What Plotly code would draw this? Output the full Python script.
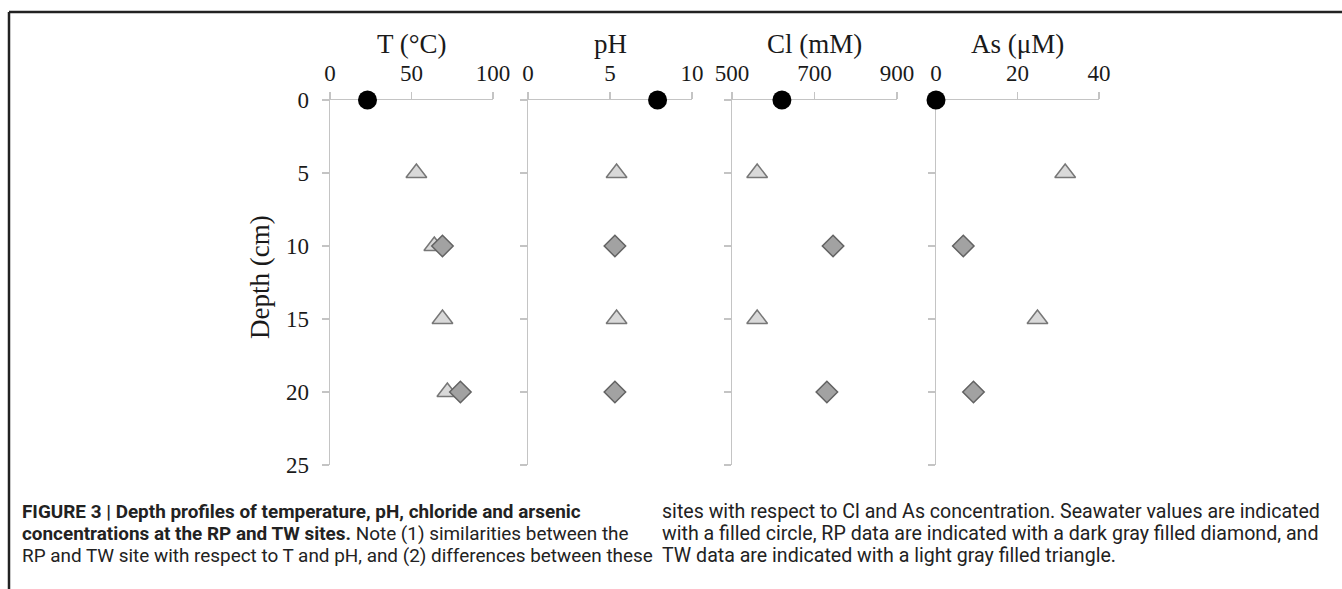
import plotly.graph_objects as go

# ---------------- data ----------------
panel_titles = ["T (°C)", "pH", "Cl (mM)", "As (μM)"]
x_ranges = [[0, 100], [0, 10], [500, 900], [0, 40]]
x_tickvals = [[0, 50, 100], [0, 5, 10], [500, 700, 900], [0, 20, 40]]
y_tickvals = [0, 5, 10, 15, 20, 25]

depth_sea = [0]
depth_tw = [5, 10, 15, 20]
depth_rp = [10, 20]

sea_T = [23]
sea_pH = [7.9]
sea_Cl = [621]
sea_As = [0]

tw_T = [53, 64, 69, 72]
tw_pH = [5.4, None, 5.4, None]
tw_Cl = [561, None, 561, None]
tw_As = [31.7, None, 24.9, None]

rp_T = [69, 80]
rp_pH = [5.3, 5.3]
rp_Cl = [745, 730]
rp_As = [6.7, 9.2]

sea_vals = [sea_T, sea_pH, sea_Cl, sea_As]
tw_vals = [tw_T, tw_pH, tw_Cl, tw_As]
rp_vals = [rp_T, rp_pH, rp_Cl, rp_As]

caption_left = [
    "<b>FIGURE 3 | Depth profiles of temperature, pH, chloride and arsenic</b>",
    "<b>concentrations at the RP and TW sites.</b> Note (1) similarities between the",
    "RP and TW site with respect to T and pH, and (2) differences between these",
]
caption_right = [
    "sites with respect to Cl and As concentration. Seawater values are indicated",
    "with a filled circle, RP data are indicated with a dark gray filled diamond, and",
    "TW data are indicated with a light gray filled triangle.",
]

# ---------------- layout helpers ----------------
W, H = 1342, 589
def px(x):
    return x / W
def py(y):
    return 1 - y / H

x_pix = [(330, 493), (528, 692), (732, 897), (936, 1099)]
y_dom = [py(465), py(100)]

serif = "Liberation Serif, Times New Roman, serif"
axis_gray = "#c4c4c4"

fig = go.Figure()

for i in range(4):
    xa = "x" if i == 0 else f"x{i+1}"
    ya = "y" if i == 0 else f"y{i+1}"
    # triangles (TW)
    fig.add_trace(go.Scatter(
        x=tw_vals[i], y=depth_tw, xaxis=xa, yaxis=ya, mode="markers",
        marker=dict(symbol="triangle-up", size=18, color="#d9d9d9",
                    line=dict(color="#777777", width=1.5)),
        cliponaxis=False, showlegend=False, hoverinfo="skip"))
    # diamonds (RP)
    fig.add_trace(go.Scatter(
        x=rp_vals[i], y=depth_rp, xaxis=xa, yaxis=ya, mode="markers",
        marker=dict(symbol="diamond", size=16.5, color="#a2a2a2",
                    line=dict(color="#626262", width=1.5)),
        cliponaxis=False, showlegend=False, hoverinfo="skip"))
    # circle (seawater)
    fig.add_trace(go.Scatter(
        x=sea_vals[i], y=depth_sea, xaxis=xa, yaxis=ya, mode="markers",
        marker=dict(symbol="circle", size=19, color="#000000",
                    line=dict(color="#000000", width=0)),
        cliponaxis=False, showlegend=False, hoverinfo="skip"))

layout = dict(
    width=W, height=H, margin=dict(l=0, r=0, t=0, b=0, autoexpand=False),
    paper_bgcolor="white", plot_bgcolor="white", showlegend=False,
)

for i in range(4):
    xk = "xaxis" if i == 0 else f"xaxis{i+1}"
    yk = "yaxis" if i == 0 else f"yaxis{i+1}"
    yname = "y" if i == 0 else f"y{i+1}"
    xname = "x" if i == 0 else f"x{i+1}"
    layout[xk] = dict(
        domain=[px(x_pix[i][0]), px(x_pix[i][1])], range=x_ranges[i],
        anchor=yname, side="top", showgrid=False, zeroline=False,
        showline=True, linecolor=axis_gray, linewidth=1.5,
        ticks="outside", ticklen=7, tickcolor=axis_gray, tickwidth=1.5,
        tickvals=x_tickvals[i], ticktext=[str(v) for v in x_tickvals[i]],
        tickfont=dict(family=serif, size=23, color="#1a1a1a"),
        ticklabelstandoff=1, fixedrange=True, automargin=False,
        layer="below traces",
    )
    layout[yk] = dict(
        domain=y_dom, range=[25, 0], anchor=xname,
        showgrid=False, zeroline=False,
        showline=True, linecolor=axis_gray, linewidth=1.5,
        ticks="outside", ticklen=7, tickcolor=axis_gray, tickwidth=1.5,
        tickvals=y_tickvals, ticktext=[str(v) for v in y_tickvals],
        showticklabels=(i == 0),
        tickfont=dict(family=serif, size=23, color="#1a1a1a"),
        ticklabelstandoff=8, fixedrange=True, automargin=False,
        layer="below traces",
    )

fig.update_layout(**layout)

annotations = []
for i in range(4):
    cx = (x_pix[i][0] + x_pix[i][1]) / 2
    annotations.append(dict(
        x=px(cx), y=py(44), xref="paper", yref="paper", text=panel_titles[i],
        showarrow=False, xanchor="center", yanchor="middle",
        font=dict(family=serif, size=27, color="#1a1a1a")))

annotations.append(dict(
    x=px(260), y=py(277), xref="paper", yref="paper", text="Depth (cm)",
    showarrow=False, xanchor="center", yanchor="middle", textangle=-90,
    font=dict(family=serif, size=27, color="#1a1a1a")))

cap_family = "Roboto, Liberation Sans, Arial, sans-serif"
cap_font_l = dict(family=cap_family, size=18.9, color="#222222")
cap_font_r = dict(family=cap_family, size=19.6, color="#222222")
line_y = [511, 533, 555]
for j, t in enumerate(caption_left):
    annotations.append(dict(
        x=px(20), y=py(line_y[j]), xref="paper", yref="paper", text=t,
        showarrow=False, xanchor="left", yanchor="middle", align="left", font=cap_font_l))
for j, t in enumerate(caption_right):
    annotations.append(dict(
        x=px(660), y=py(line_y[j]), xref="paper", yref="paper", text=t,
        showarrow=False, xanchor="left", yanchor="middle", align="left", font=cap_font_r))

fig.update_layout(annotations=annotations)

fig.update_layout(shapes=[
    dict(type="line", xref="paper", yref="paper", x0=px(9), x1=1, y0=py(12), y1=py(12),
         line=dict(color="#222222", width=2.5)),
    dict(type="line", xref="paper", yref="paper", x0=px(9), x1=px(9), y0=py(12), y1=0,
         line=dict(color="#222222", width=2.5)),
])

fig.write_html("out.html", config={"displayModeBar": False, "staticPlot": True},
               post_script="document.body.style.margin='0';document.body.style.overflow='hidden';")
